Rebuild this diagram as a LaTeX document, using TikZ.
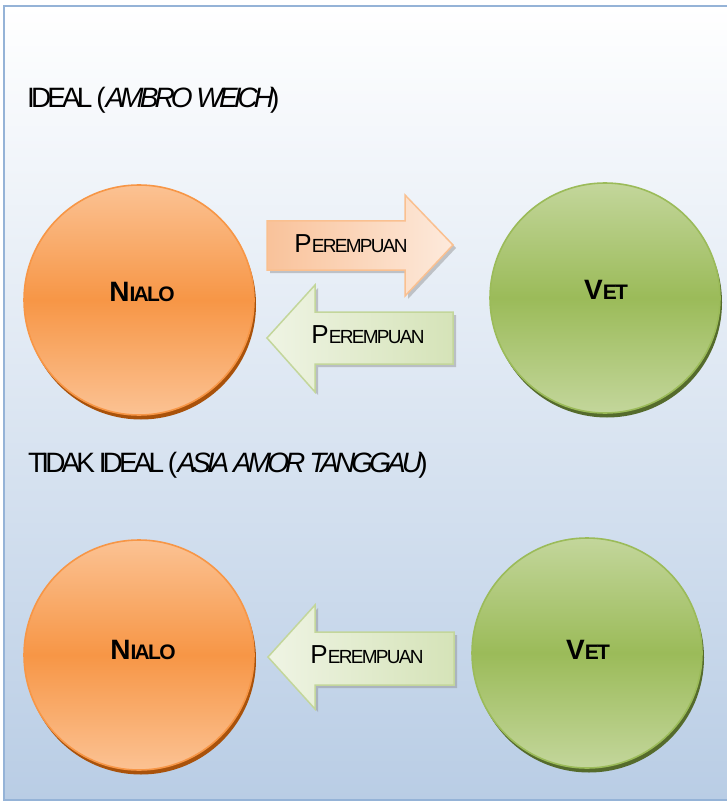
\documentclass[tikz,border=0pt]{standalone}
\usepackage{fontspec}
\setmainfont{Liberation Sans}
\usetikzlibrary{shadows}
\definecolor{frameblue}{HTML}{95B3D7}
\definecolor{bgbot}{HTML}{B9CDE5}
\definecolor{orMid}{HTML}{F79646}
\definecolor{orLight}{HTML}{FBC293}
\definecolor{orDark}{HTML}{A9520B}
\definecolor{grMid}{HTML}{9BBB59}
\definecolor{grLight}{HTML}{C3D69B}
\definecolor{grDark}{HTML}{556B2C}
\definecolor{arOrL}{HTML}{F9C29A}
\definecolor{arOrR}{HTML}{FDEADC}
\definecolor{arOrEdge}{HTML}{FAC090}
\definecolor{arGrL}{HTML}{EFF4E4}
\definecolor{arGrR}{HTML}{D5E3B8}
\definecolor{arGrEdge}{HTML}{C3D69B}
\newcommand{\twocap}[4]{{\fontsize{#1}{#1}\selectfont #3}{\fontsize{#2}{#2}\selectfont #4}}
\tikzset{
  orb/.style={circle, inner sep=0pt, minimum size=230pt, line width=1.6pt},
  orborange/.style={orb, draw=orMid, top color=orLight, bottom color=orLight, middle color=orMid,
     drop shadow={shadow xshift=2pt, shadow yshift=-4.5pt, fill=orDark, opacity=1}},
  orbgreen/.style={orb, draw=grMid, top color=grLight, bottom color=grLight, middle color=grMid,
     drop shadow={shadow xshift=2pt, shadow yshift=-4.5pt, fill=grDark, opacity=1}},
  orblabel/.style={anchor=base, inner sep=0pt, font=\bfseries\addfontfeature{LetterSpace=-8}},
  arrowlabel/.style={anchor=base, inner sep=0pt, font=\addfontfeature{LetterSpace=-9}},
  titlelabel/.style={anchor=base west, inner sep=0pt, font=\fontsize{28}{28}\selectfont\addfontfeature{LetterSpace=-14}},
  arrorange/.style={draw=arOrEdge, line width=1.5pt, left color=arOrL, right color=arOrR},
  arrgreen/.style={draw=arGrEdge, line width=1.5pt, left color=arGrL, right color=arGrR},
  arrshadow/.style={fill=black!45, opacity=0.45},
}
\begin{document}
\begin{tikzpicture}[x=1pt, y=-1pt]
\useasboundingbox (0,0) rectangle (727,802);
\begin{scope}
\clip (0,0) rectangle (727,802);
% background and frame
\shade[top color=white, bottom color=bgbot] (4,6) rectangle (740,800);
\draw[frameblue, line width=2pt] (4,6) rectangle (740,800);

% titles
\node[titlelabel] (title1) at (27,108) {IDEAL (\textit{AMBRO WEICH})};
\node[titlelabel] (title2) at (28,472) {TIDAK IDEAL (\textit{ASIA AMOR TANGGAU})};

% circles
\node[orborange] (nialoA) at (139,300) {};
\node[orbgreen]  (vetA)   at (605,298) {};
\node[orborange] (nialoB) at (139,655) {};
\node[orbgreen]  (vetB)   at (587,653) {};

\node[orblabel] (nialoAt) at (142,301) {\twocap{28}{21}{N}{IALO}};
\node[orblabel] (vetAt)   at (606,299) {\twocap{28}{21}{V}{ET}};
\node[orblabel] (nialoBt) at (143,659) {\twocap{28}{21}{N}{IALO}};
\node[orblabel] (vetBt)   at (588,659) {\twocap{28}{21}{V}{ET}};

% arrow shadows
\fill[arrshadow, shift={(3,3)}] (267,221) -- (405,221) -- (405,195) -- (453,245) -- (405,296) -- (405,270) -- (267,270) -- cycle;
\fill[arrshadow, shift={(3,3)}] (267,338) -- (315,285) -- (315,312) -- (453,312) -- (453,364) -- (315,364) -- (315,392) -- cycle;
\fill[arrshadow, shift={(3,3)}] (268,657) -- (315,605) -- (315,632) -- (454,632) -- (454,685) -- (315,685) -- (315,709) -- cycle;

% block arrows
\path[arrorange] (267,221) -- (405,221) -- (405,195) -- (453,245) -- (405,296) -- (405,270) -- (267,270) -- cycle;
\path[arrgreen] (267,338) -- (315,285) -- (315,312) -- (453,312) -- (453,364) -- (315,364) -- (315,392) -- cycle;
\path[arrgreen] (268,657) -- (315,605) -- (315,632) -- (454,632) -- (454,685) -- (315,685) -- (315,709) -- cycle;

\node[arrowlabel] (lblA) at (351,252) {\twocap{26}{19}{P}{EREMPUAN}};
\node[arrowlabel] (lblB) at (368,343) {\twocap{26}{19}{P}{EREMPUAN}};
\node[arrowlabel] (lblC) at (367,663) {\twocap{26}{19}{P}{EREMPUAN}};
\end{scope}
\end{tikzpicture}
\end{document}
